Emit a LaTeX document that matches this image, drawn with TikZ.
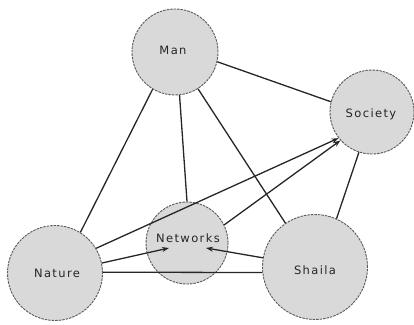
\documentclass[tikz,border=0pt]{standalone}
\usepackage{fontspec}
\newfontfamily\lblfont[LetterSpace=12]{DejaVu Sans}
\usetikzlibrary{arrows.meta,calc}
\begin{document}
\begin{tikzpicture}[x=1pt,y=-1pt,
  circ/.style={circle,inner sep=0pt,fill=black!15,draw=black!65,line width=0.9pt,dash pattern=on 2.5pt off 1pt},
  lbl/.style={font=\lblfont\fontsize{11.5}{13}\selectfont,text=black!85,inner sep=0pt},
  link/.style={draw=black!85,line width=1.3pt},
  arr/.style={link,-{Stealth[length=7pt,width=5pt]}}]
\useasboundingbox (0,0) rectangle (414,324);
\node[circ,minimum size=86pt] (man) at (175,52) {};
\node[circ,minimum size=84pt] (society) at (372,112) {};
\node[circ,minimum size=95pt] (nature) at (55,273) {};
\node[circ,minimum size=82pt] (networks) at (187,243) {};
\node[circ,minimum size=105pt] (shaila) at (315,267) {};
\node[lbl] (manl) at (173,50) {Man};
\node[lbl] (societyl) at (371,114) {Society};
\node[lbl] (naturel) at (57,273) {Nature};
\node[lbl] (networksl) at (188,238) {Networks};
\node[lbl] (shailal) at (315,270) {Shaila};
\coordinate (nwleft) at ($(networks.center)+(-18,5)$);
\coordinate (nwright) at ($(networks.center)+(19,5)$);
\draw[link] (man.-13) -- (society.166);
\draw[link] (man.-121) -- (nature.58);
\draw[link] (man.-84) -- (networks.90);
\draw[link] (man.-58) -- (shaila.124);
\draw[link] (society.-108) -- (shaila.66);
\draw[link] (nature.1) -- (shaila.186);
\draw[arr] (nature.31) -- (society.-142);
\draw[arr] (networks.26) -- (society.-138);
\draw[arr] (nature.12) -- (nwleft);
\draw[arr] (shaila.170) -- (nwright);
\end{tikzpicture}
\end{document}
